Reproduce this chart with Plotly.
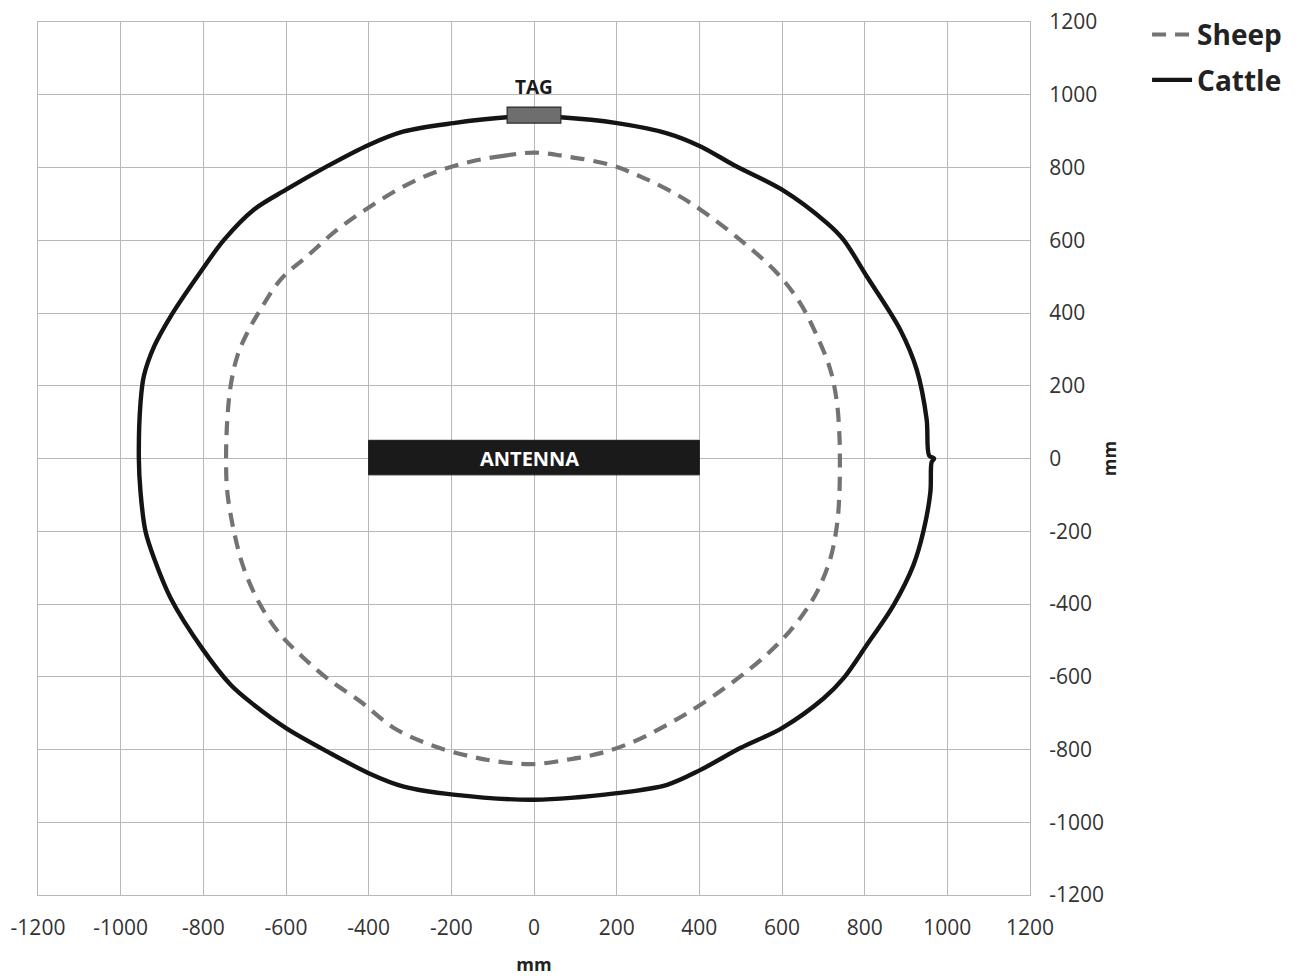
import plotly.graph_objects as go

# ---- data (mm) ----
cattle_x = [0, -66, -195, -315, -400, -501, -600, -678, -750, -803, -879, -919, -944, -952, -956,
            -952, -940, -919, -879, -803, -734, -678, -600, -501, -400, -315, -195, 0,
            201, 322, 403, 499, 600, 701, 749, 805, 870, 918, 942, 959, 962, 968,
            956, 950, 926, 886, 805, 749, 709, 600, 483, 403, 322, 201, 64, 0]
cattle_y = [940, 938, 922, 899, 862, 803, 739, 684, 601, 519, 391, 308, 226, 153, 0,
            -92, -200, -275, -384, -522, -622, -677, -741, -805, -865, -902, -924, -938,
            -920, -897, -856, -796, -741, -659, -604, -513, -403, -293, -201, -92, -10, 0,
            8, 107, 244, 354, 501, 601, 647, 739, 807, 858, 894, 922, 938, 940]

sheep_x = [0, -74, -154, -235, -315, -396, -476, -549, -613, -662, -694, -718, -734, -742, -745,
           -742, -726, -702, -662, -613, -565, -501, -420, -339, -251, -154, -74, 0,
           81, 161, 242, 322, 403, 524, 596, 644, 685, 717, 733, 739, 740,
           739, 733, 717, 685, 644, 588, 499, 403, 346, 266, 185, 81, 0]
sheep_y = [841, 832, 816, 789, 748, 693, 629, 556, 492, 409, 345, 281, 199, 107, 0,
           -92, -200, -302, -403, -485, -540, -604, -668, -741, -787, -819, -835, -840,
           -828, -810, -778, -732, -677, -577, -503, -439, -366, -275, -183, -92, 0,
           61, 153, 244, 336, 427, 510, 601, 684, 725, 771, 807, 830, 841]

antenna_x = [-400, 400]
antenna_y = [-45, 50]
tag_x = [-65, 65]
tag_y = [922, 966]

tick_vals = [-1200, -1000, -800, -600, -400, -200, 0, 200, 400, 600, 800, 1000, 1200]
tick_text = [str(v) for v in tick_vals]

FONT = "Open Sans"

fig = go.Figure()
fig.add_trace(go.Scatter(x=sheep_x, y=sheep_y, mode="lines", name="Sheep",
                         legendgroup="s",
                         line=dict(color="#737373", width=4.2, dash="14px,9px",
                                   shape="spline", smoothing=1.0)))
fig.add_trace(go.Scatter(x=cattle_x, y=cattle_y, mode="lines", name="Cattle",
                         legendgroup="c",
                         line=dict(color="#141414", width=4.4,
                                   shape="spline", smoothing=0.9)))

fig.add_shape(type="rect", xref="x", yref="y",
              x0=antenna_x[0], x1=antenna_x[1], y0=antenna_y[0], y1=antenna_y[1],
              fillcolor="#1a1a1a", line=dict(color="#1a1a1a", width=1), layer="above")
fig.add_shape(type="rect", xref="x", yref="y",
              x0=tag_x[0], x1=tag_x[1], y0=tag_y[0], y1=tag_y[1],
              fillcolor="#6e6e6e", line=dict(color="#2a2a2a", width=1.2), layer="above")

fig.add_annotation(x=-10, y=0, xref="x", yref="y", text="<b>ANTENNA</b>", showarrow=False,
                   font=dict(family=FONT, size=20, color="white"))
fig.add_annotation(x=0, y=1020, xref="x", yref="y", text="<b>TAG</b>", showarrow=False,
                   font=dict(family=FONT, size=19, color="#1a1a1a"))

axis_common = dict(range=[-1200, 1200], tickvals=tick_vals, ticktext=tick_text,
                   showgrid=True, gridcolor="#b8b8b8", gridwidth=1, zeroline=False,
                   showline=True, linecolor="#b8b8b8", linewidth=1, mirror=True,
                   ticks="outside", tickcolor="rgba(0,0,0,0)", automargin=False,
                   ticklabeloverflow="allow",
                   tickfont=dict(family=FONT, size=21, color="#333333"))

fig.update_layout(
    width=1290, height=970,
    margin=dict(l=30, r=268, t=14, b=83, autoexpand=False),
    plot_bgcolor="white", paper_bgcolor="white",
    xaxis=dict(**axis_common, ticklen=14,
               title=dict(text="<b>mm</b>", font=dict(family=FONT, size=18, color="#222"),
                          standoff=18)),
    yaxis=dict(**axis_common, side="right", ticklen=14,
               title=dict(text="<b>mm</b>", font=dict(family=FONT, size=18, color="#222"),
                          standoff=0)),
    showlegend=True,
    legend=dict(x=1.118, y=1.014, xanchor="left", yanchor="top",
                font=dict(family=FONT, size=28, color="#222", weight="bold"),
                traceorder="grouped", tracegroupgap=6,
                bgcolor="rgba(0,0,0,0)", itemwidth=40),
)

fig.write_html("out.html")
